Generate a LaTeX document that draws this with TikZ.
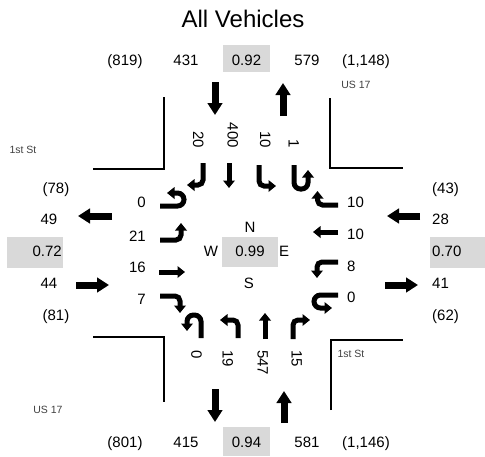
\documentclass[tikz,border=0pt]{standalone}
\usepackage{fontspec}
\setmainfont{Liberation Sans}
\usetikzlibrary{arrows.meta}
\definecolor{cellgray}{RGB}{217,217,217}
\definecolor{streetgray}{RGB}{64,64,64}

\begin{document}
\begin{tikzpicture}[x=1pt,y=-1pt,
  num/.style={font=\fontsize{15}{18}\selectfont, inner sep=0pt, text height=10.7pt, text depth=0pt},
  street/.style={font=\fontsize{10.5}{12}\selectfont, text=streetgray, inner sep=0pt, text height=7.5pt, text depth=0pt},
  cell/.style={fill=cellgray},
  curb/.style={line width=1.8pt, line join=miter},
  flow/.style={line width=7pt, -{Triangle[width=14.5pt,length=12pt]}},
  move/.style={line width=5pt, rounded corners=5pt, -{Triangle[width=11.5pt,length=7.5pt]}},
  uturn/.style={move, rounded corners=6.5pt},
  rot/.style={num, rotate=-90},
]
\useasboundingbox (0,0) rectangle (485,456);

% title
\node[font=\fontsize{24}{28}\selectfont, inner sep=0pt, text height=17.2pt, text depth=0pt] (title) at (243,19) {All Vehicles};

% shaded cells for peak hour factors
\fill[cell] (223,45) rectangle (270,72);
\fill[cell] (223,427) rectangle (270,456);
\fill[cell] (7,237) rectangle (63,268);
\fill[cell] (430,237) rectangle (485,268);
\fill[cell] (222,237) rectangle (278,267);

% curb lines at the four corners
\draw[curb] (93,169) -- (164,169) -- (164,97);
\draw[curb] (330,98) -- (330,168) -- (403,168);
\draw[curb] (93,337) -- (164,337) -- (164,402);
\draw[curb] (331,410) -- (331,340) -- (403,340);

% street names
\node[street] (us17n) at (356,85) {US 17};
\node[street] (firstw) at (23,150) {1st St};
\node[street] (firste) at (351,354) {1st St};
\node[street] (us17s) at (48,410) {US 17};

% north leg totals
\node[num] (nOutTot) at (125,60.5) {(819)};
\node[num] (nOut) at (186,60.5) {431};
\node[num] (nPhf) at (246.5,60.5) {0.92};
\node[num] (nIn) at (307,60.5) {579};
\node[num] (nInTot) at (366,60.5) {(1,148)};

% south leg totals
\node[num] (sOutTot) at (125,442.5) {(801)};
\node[num] (sOut) at (186,442.5) {415};
\node[num] (sPhf) at (246.5,442.5) {0.94};
\node[num] (sIn) at (307,442.5) {581};
\node[num] (sInTot) at (366,442.5) {(1,146)};

% west leg totals
\node[num] (wInTot) at (56,188) {(78)};
\node[num] (wOut) at (49,219.5) {49};
\node[num, anchor=east] (wPhf) at (62,251.5) {0.72};
\node[num] (wIn) at (49,283.5) {44};
\node[num] (wOutTot) at (56,315) {(81)};

% east leg totals
\node[num, anchor=west] (eOutTot) at (432,188) {(43)};
\node[num, anchor=west] (eIn) at (432,219.5) {28};
\node[num, anchor=west] (ePhf) at (432,251.5) {0.70};
\node[num, anchor=west] (eOut) at (432,283.5) {41};
\node[num, anchor=west] (eInTot) at (432,315) {(62)};

% intersection centre
\node[num] (north) at (250,227) {N};
\node[num] (west) at (211,251.5) {W};
\node[num] (phf) at (250,251.5) {0.99};
\node[num] (east) at (284,251.5) {E};
\node[num] (south) at (249,283) {S};

% approach / departure flows
\draw[flow] (215,82) -- (215,115);
\draw[flow] (283,116) -- (283,83);
\draw[flow] (215,389) -- (215,422);
\draw[flow] (284,423) -- (284,391);
\draw[flow] (112,216) -- (78,216);
\draw[flow] (76,285) -- (109,285);
\draw[flow] (420,216) -- (387,216);
\draw[flow] (385,285) -- (418,285);

% southbound movements
\node[rot, anchor=east] (sbR) at (198.5,148) {20};
\node[rot, anchor=east] (sbT) at (233,148) {400};
\node[rot, anchor=east] (sbL) at (265.5,148) {10};
\node[rot, anchor=east] (sbU) at (294,148) {1};
\draw[move] (203,163) -- (203,185) -- (187,185);
\draw[move] (229,163) -- (229,188);
\draw[move] (259,165) -- (259,186) -- (276,186);
\draw[uturn] (294,165) -- (294,189) -- (308,189) -- (308,170);

% westbound movements
\node[num, anchor=west] (wbR) at (347,202.5) {10};
\node[num, anchor=west] (wbT) at (347,234) {10};
\node[num, anchor=west] (wbL) at (347,266) {8};
\node[num, anchor=west] (wbU) at (347,297.5) {0};
\draw[move] (338,205) -- (317.5,205) -- (317.5,191);
\draw[move] (338,232) -- (313,232);
\draw[move] (338,262) -- (317,262) -- (317,278);
\draw[uturn] (338,295) -- (314,295) -- (314,308) -- (332,308);

% eastbound movements
\node[num, anchor=east] (ebU) at (146,202.5) {0};
\node[num, anchor=east] (ebL) at (146,236) {21};
\node[num, anchor=east] (ebT) at (146,267.5) {16};
\node[num, anchor=east] (ebR) at (146,299) {7};
\draw[uturn] (160,206) -- (184,206) -- (184,193) -- (167,193);
\draw[move] (160,240) -- (181,240) -- (181,223);
\draw[move] (159,272) -- (185,272);
\draw[move] (160,296) -- (180,296) -- (180,313);

% northbound movements
\node[rot, anchor=west] (nbU) at (196.7,350) {0};
\node[rot, anchor=west] (nbL) at (228,350) {19};
\node[rot, anchor=west] (nbT) at (263,350) {547};
\node[rot, anchor=west] (nbR) at (297,350) {15};
\draw[uturn] (201,338) -- (201,315) -- (187,315) -- (187,331);
\draw[move] (238,338) -- (238,320) -- (220,320);
\draw[move] (265,339) -- (265,313);
\draw[move] (293,339) -- (293,320) -- (310,320);
\end{tikzpicture}
\end{document}
